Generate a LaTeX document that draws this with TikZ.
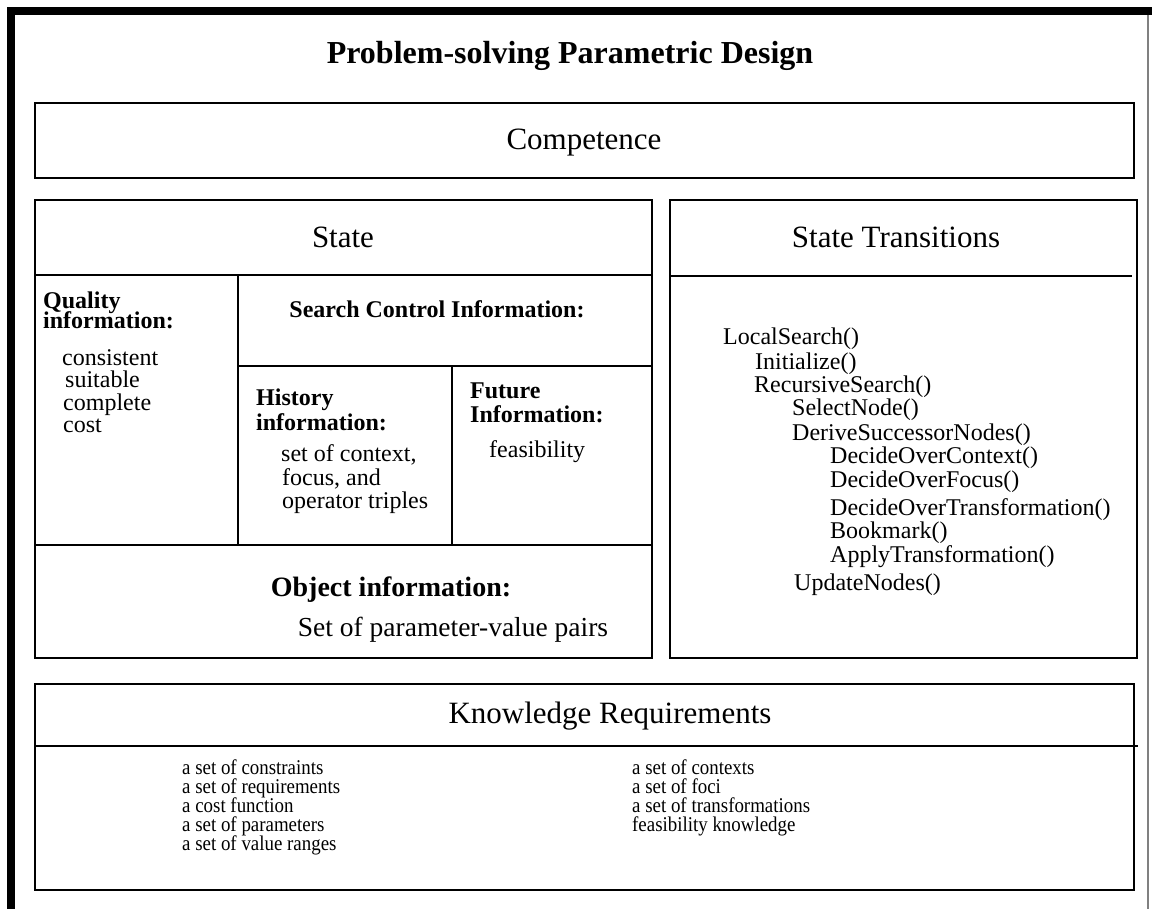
\documentclass[tikz,border=0pt]{standalone}
\usepackage{fontspec}
\setmainfont{Liberation Serif}
\newfontfamily\kfont[FakeStretch=0.9]{Liberation Serif}
\begin{document}
\begin{tikzpicture}[x=1pt,y=-1pt,
  frame/.style={line width=2.6pt},
  thin/.style={line width=1.4pt},
  txt/.style={anchor=base west, inner sep=0pt, font=\fontsize{24}{24}\selectfont},
  btxt/.style={anchor=base west, inner sep=0pt, font=\fontsize{24}{24}\selectfont\bfseries},
  head/.style={anchor=base, inner sep=0pt, font=\fontsize{31}{31}\selectfont},
  ktxt/.style={anchor=base west, inner sep=0pt, font=\kfont\fontsize{21}{21}\selectfont}]
\useasboundingbox (0,0) rectangle (1152,909);
% outer frame
\draw[line width=8pt] (11,909) -- (11,11) -- (1152,11);
\draw[gray, line width=1.5pt] (1148,15) -- (1148,909);
% title
\node[anchor=base, inner sep=0pt, font=\fontsize{32}{32}\selectfont\bfseries] (title) at (570,64) {Problem-solving Parametric Design};
% competence
\draw[frame] (35,103) rectangle (1134,178);
\node[head] (comp) at (584,150) {Competence};
% state box
\draw[frame] (35,200) rectangle (652,658);
\node[head] (state) at (343,248) {State};
\draw[thin] (35,275) -- (652,275);
\draw[thin] (238,275) -- (238,545);
\draw[thin] (238,366) -- (652,366);
\draw[thin] (452,366) -- (452,545);
\draw[thin] (35,545) -- (652,545);
\node[btxt] (q1) at (43,309) {Quality};
\node[btxt] (q2) at (43,329) {information:};
\node[txt] (q3) at (62,366) {consistent};
\node[txt] (q4) at (65,388) {suitable};
\node[txt] (q5) at (63,410) {complete};
\node[txt] (q6) at (63,432) {cost};
\node[anchor=base, inner sep=0pt, font=\fontsize{24}{24}\selectfont\bfseries] (sci) at (437,318) {Search Control Information:};
\node[btxt] (h1) at (256,406) {History};
\node[btxt] (h2) at (256,430) {information:};
\node[txt] (h3) at (281,461) {set of context,};
\node[txt] (h4) at (282,485) {focus, and};
\node[txt] (h5) at (282,508) {operator triples};
\node[btxt] (f1) at (470,399) {Future};
\node[btxt] (f2) at (470,422) {Information:};
\node[txt] (f3) at (489,457) {feasibility};
\node[anchor=base, inner sep=0pt, font=\fontsize{28}{28}\selectfont\bfseries] (obj) at (391,596) {Object information:};
\node[anchor=base, inner sep=0pt, font=\fontsize{27.5}{27.5}\selectfont] (objv) at (453,636) {Set of parameter-value pairs};
% state transitions
\draw[frame] (670,200) rectangle (1137,658);
\node[head] (st) at (896,248) {State Transitions};
\draw[thin] (670,276) -- (1132,276);
\node[txt] (s1) at (723,345) {LocalSearch()};
\node[txt] (s2) at (755,370) {Initialize()};
\node[txt] (s3) at (754,392) {RecursiveSearch()};
\node[txt] (s4) at (792,416) {SelectNode()};
\node[txt] (s5) at (792,440) {DeriveSuccessorNodes()};
\node[txt] (s6) at (830,464) {DecideOverContext()};
\node[txt] (s7) at (830,487) {DecideOverFocus()};
\node[txt] (s8) at (830,515) {DecideOverTransformation()};
\node[txt] (s9) at (830,538) {Bookmark()};
\node[txt] (s10) at (830,562) {ApplyTransformation()};
\node[txt] (s11) at (794,590) {UpdateNodes()};
% knowledge requirements
\draw[frame] (35,684) rectangle (1134,890);
\node[head] (kr) at (610,723) {Knowledge Requirements};
\draw[thin] (35,746) -- (1138,746);
\node[ktxt] (k1) at (182,774) {a set of constraints};
\node[ktxt] (k2) at (182,793) {a set of requirements};
\node[ktxt] (k3) at (182,812) {a cost function};
\node[ktxt] (k4) at (182,831) {a set of parameters};
\node[ktxt] (k5) at (182,850) {a set of value ranges};
\node[ktxt] (k6) at (632,774) {a set of contexts};
\node[ktxt] (k7) at (632,793) {a set of foci};
\node[ktxt] (k8) at (632,812) {a set of transformations};
\node[ktxt] (k9) at (632,831) {feasibility knowledge};
\end{tikzpicture}
\end{document}
